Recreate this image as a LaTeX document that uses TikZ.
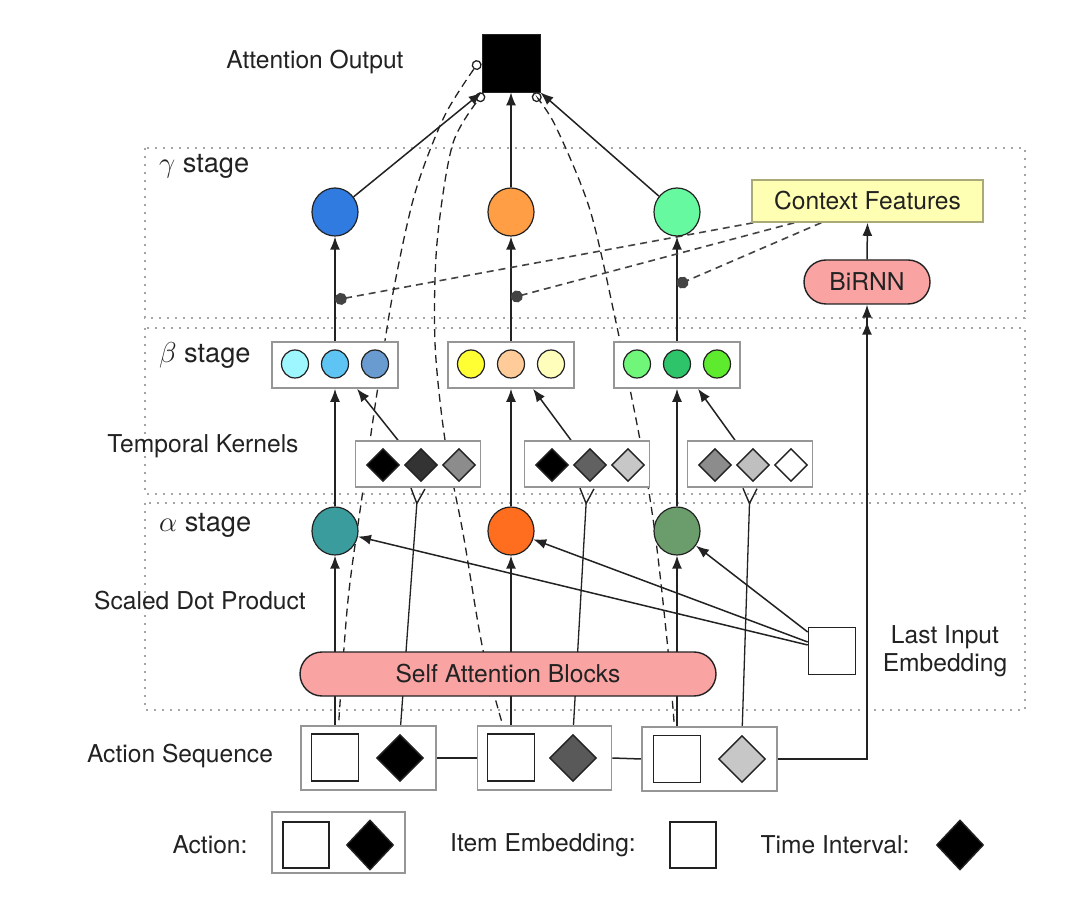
\documentclass[tikz,border=0pt]{standalone}
\usepackage{fontspec}
\setmainfont{TeX Gyre Heros}
\usetikzlibrary{arrows.meta,shapes.geometric,calc}
\pgfdeclarelayer{bbg}
\pgfdeclarelayer{bg}
\pgfsetlayers{bbg,bg,main}
\definecolor{gA}{RGB}{47,123,224}
\definecolor{gB}{RGB}{255,158,68}
\definecolor{gC}{RGB}{102,249,160}
\definecolor{bA1}{RGB}{158,247,255}
\definecolor{bA2}{RGB}{94,196,244}
\definecolor{bA3}{RGB}{106,155,208}
\definecolor{bB1}{RGB}{255,255,51}
\definecolor{bB2}{RGB}{255,204,153}
\definecolor{bB3}{RGB}{255,255,187}
\definecolor{bC1}{RGB}{112,247,122}
\definecolor{bC2}{RGB}{46,196,106}
\definecolor{bC3}{RGB}{94,235,46}
\definecolor{aA}{RGB}{58,156,156}
\definecolor{aB}{RGB}{255,110,30}
\definecolor{aC}{RGB}{107,156,107}
\definecolor{cfFill}{RGB}{255,255,179}
\definecolor{cfLine}{RGB}{170,170,120}
\definecolor{pillc}{RGB}{249,163,163}
\definecolor{ink}{RGB}{34,34,34}
\definecolor{boxgray}{RGB}{150,150,150}
\definecolor{dotgray}{RGB}{165,165,165}
\begin{document}
\begin{tikzpicture}[x=0.5pt,y=-0.5pt,
  every node/.style={font=\fontsize{12.3}{14}\selectfont, text=ink},
  stagelbl/.style={anchor=west, font=\fontsize{13.6}{15}\selectfont},
  bigcirc/.style={ellipse, draw=ink, line width=0.6pt, fill=#1, minimum width=23pt, minimum height=24pt, inner sep=0pt},
  smallcirc/.style={ellipse, draw=ink, line width=0.6pt, fill=#1, minimum width=13.5pt, minimum height=14pt, inner sep=0pt},
  graybox/.style={draw=boxgray, line width=0.8pt, fill=white, minimum width=#1, minimum height=23pt, inner sep=0pt},
  kdia/.style={diamond, draw=ink, line width=0.7pt, fill=#1, minimum width=16.5pt, minimum height=16.5pt, inner sep=0pt},
  adia/.style={diamond, draw=ink, line width=0.7pt, fill=#1, minimum width=23.5pt, minimum height=23.5pt, inner sep=0pt},
  sqbox/.style={draw=ink, line width=0.8pt, fill=white, minimum size=23.5pt, inner sep=0pt},
  pillbox/.style={draw=ink, line width=0.7pt, fill=pillc, rounded corners=11pt, minimum height=22pt, inner sep=0pt},
  stagebox/.style={draw=dotgray, line width=1pt, dash pattern=on 1pt off 3pt},
  arr/.style={draw=ink, line width=0.75pt, -{Latex[length=6.5pt,width=5pt]}},
  dblarr/.style={draw=ink, line width=0.75pt, -{Latex[length=6.5pt,width=5pt,sep=2pt]Latex[length=6.5pt,width=5pt]}},
  ytip/.style={draw=ink, line width=0.65pt, -{Straight Barb[reversed,length=7.5pt,width=7pt,line width=0.7pt]}},
  plain/.style={draw=ink, line width=0.75pt},
  ctx/.style={draw=ink!85, line width=0.8pt, dash pattern=on 3.5pt off 2.5pt, -{Circle[length=6pt]}},
  curve/.style={draw=ink, line width=0.65pt, dash pattern=on 4pt off 2.5pt, -{Circle[open,length=5pt,width=5pt]}}
]
\useasboundingbox (0,0) rectangle (1071,914);
\begin{pgfonlayer}{bbg}
\fill[white] (0,0) rectangle (1071,914);
\draw[stagebox] (145,148) rectangle (1025,318);
\draw[stagebox] (145,328) rectangle (1025,494);
\draw[stagebox] (145,503) rectangle (1025,710);
\end{pgfonlayer}

% output
\node[draw=ink, fill=black, minimum size=29pt, inner sep=0pt] (out) at (511,63) {};
\node (lblOut) at (315,62) {Attention Output};

% stage labels
\node[stagelbl] (lblG) at (152,166) {$\gamma$ stage};
\node[stagelbl] (lblB) at (152,355) {$\beta$ stage};
\node[stagelbl] (lblA) at (152,525) {$\alpha$ stage};
\node (lblTK) at (203,446) {Temporal Kernels};
\node (lblSDP) at (200,601) {Scaled Dot Product};
\node (lblAS) at (180,756) {Action Sequence};
\node[align=center] (lblLIE) at (945,651) {Last Input\\Embedding};

% gamma
\node[bigcirc=gA] (g1) at (335,212) {};
\node[bigcirc=gB] (g2) at (511,212) {};
\node[bigcirc=gC] (g3) at (677,212) {};
\node[draw=cfLine, line width=0.8pt, fill=cfFill, minimum width=115.5pt, minimum height=21pt, inner sep=0pt] (cf) at (867.5,201) {Context Features};
\node[pillbox, minimum width=63pt] (birnn) at (867,282) {BiRNN};

% beta
\node[graybox=63pt] (B1) at (335,365) {};
\node[graybox=63pt] (B2) at (511,365) {};
\node[graybox=63pt] (B3) at (677,365) {};
\node[smallcirc=bA1] (b11) at (295,364) {};
\node[smallcirc=bA2] (b12) at (335,364) {};
\node[smallcirc=bA3] (b13) at (375,364) {};
\node[smallcirc=bB1] (b21) at (471,364) {};
\node[smallcirc=bB2] (b22) at (511,364) {};
\node[smallcirc=bB3] (b23) at (551,364) {};
\node[smallcirc=bC1] (b31) at (637,364) {};
\node[smallcirc=bC2] (b32) at (677,364) {};
\node[smallcirc=bC3] (b33) at (717,364) {};

% temporal kernels
\node[graybox=62.5pt] (K1) at (418,464) {};
\node[graybox=62.5pt] (K2) at (587,464) {};
\node[graybox=62.5pt] (K3) at (750,464) {};
\node[kdia=black] (k11) at (383,465) {};
\node[kdia=black!80] (k12) at (421,465) {};
\node[kdia=black!45] (k13) at (459,465) {};
\node[kdia=black] (k21) at (552,465) {};
\node[kdia=black!62] (k22) at (590,465) {};
\node[kdia=black!22] (k23) at (628,465) {};
\node[kdia=black!45] (k31) at (715,465) {};
\node[kdia=black!25] (k32) at (753,465) {};
\node[kdia=white] (k33) at (791,465) {};

% alpha
\node[bigcirc=aA] (a1) at (335,531) {};
\node[bigcirc=aB] (a2) at (511,531) {};
\node[bigcirc=aC] (a3) at (677,531) {};

\node[pillbox, minimum width=208pt] (sab) at (508,674) {Self Attention Blocks};
\node[sqbox] (lie) at (832,651) {};

% action sequence
\node[draw=boxgray, line width=0.8pt, fill=white, minimum width=67.5pt, minimum height=32pt, inner sep=0pt] (A1) at (368.5,758) {};
\node[draw=boxgray, line width=0.8pt, fill=white, minimum width=67pt, minimum height=32pt, inner sep=0pt] (A2) at (544.5,758) {};
\node[draw=boxgray, line width=0.8pt, fill=white, minimum width=67.5pt, minimum height=32pt, inner sep=0pt] (A3) at (709.5,759) {};
\node[sqbox] (s1) at (335,757.5) {};
\node[sqbox] (s2) at (511,757.5) {};
\node[sqbox] (s3) at (677,759) {};
\node[adia=black] (d1) at (400,758) {};
\node[adia=black!65] (d2) at (573,758) {};
\node[adia=black!22] (d3) at (742,759) {};

% legend
\node (lgA) at (210,845) {Action:};
\node[draw=boxgray, line width=0.8pt, fill=white, minimum width=66.5pt, minimum height=30.5pt, inner sep=0pt] (lgbox) at (338.5,842.5) {};
\node[sqbox, minimum size=23pt] (lgsq) at (306,845) {};
\node[adia=black, minimum width=23.5pt, minimum height=25pt] (lgdia) at (370,845) {};
\node (lgI) at (543,845) {Item Embedding:};
\node[sqbox, minimum size=23pt] (lgsq2) at (693,845) {};
\node (lgT) at (835,845) {Time Interval:};
\node[adia=black, minimum width=23.5pt, minimum height=25pt] (lgdia2) at (960,845) {};

\coordinate (p1) at (335,300);
\coordinate (p2) at (511,298);
\coordinate (p3) at (677,285);

\begin{pgfonlayer}{bg}
\draw[arr] (g1) -- (out.south west);
\draw[arr] (g2) -- (out.south);
\draw[arr] (g3) -- (out.south east);
\draw[arr] (B1.north) -- (g1.south);
\draw[arr] (B2.north) -- (g2.south);
\draw[arr] (B3.north) -- (g3.south);
\draw[arr] (a1.north) -- (B1.south);
\draw[arr] (a2.north) -- (B2.south);
\draw[arr] (a3.north) -- (B3.south);
\draw[arr] ($(K1.north)+(-20,0)$) -- ($(B1.south)+(22,0)$);
\draw[arr] ($(K2.north)+(-16,0)$) -- ($(B2.south)+(22,0)$);
\draw[arr] ($(K3.north)+(-15,0)$) -- ($(B3.south)+(21,0)$);
\draw[arr] (s1.north) -- (a1.south);
\draw[arr] (s2.north) -- (a2.south);
\draw[arr] (s3.north) -- (a3.south);
\draw[ytip] (d1.north) -- (K1.south);
\draw[ytip] (d2.north) -- (K2.south);
\draw[ytip] (d3.north) -- (K3.south);
\draw[arr] ($(lie.west)+(0,-6)$) -- (a1);
\draw[arr] ($(lie.west)+(0,-9)$) -- (a2);
\draw[arr] ($(lie.west)+(0,-19)$) -- (a3);
\draw[plain] (A1.east) -- (A2.west);
\draw[plain] (A2.east) -- (A3.west);
\draw[dblarr] (A3.east) -| (birnn.south);
\draw[arr] (birnn.north) -- (cf.south);
\draw[ctx] ($(cf.south west)+(2,0)$) -- (p1);
\draw[ctx] ($(cf.south west)+(43,0)$) -- (p2);
\draw[ctx] ($(cf.south west)+(70,0)$) -- (p3);
\draw[curve] plot[smooth] coordinates {($(s1.north)+(3,0)$) (348,600) (363,490) (377,393) (393,293) (415,193) (445,115) ($(out.west)+(-2,-2)$)};
\draw[curve] plot[smooth] coordinates {($(s2.north)+(-6,0)$) (483,650) (463,533) (445,440) (435,343) (437,243) (453,143) ($(out.south west)+(2,1)$)};
\draw[curve] plot[smooth] coordinates {($(s3.north)+(-2,0)$) (668,650) (655,533) (640,440) (617,327) (590,210) (555,125) ($(out.south east)+(-7,1)$)};
\end{pgfonlayer}
\end{tikzpicture}
\end{document}
